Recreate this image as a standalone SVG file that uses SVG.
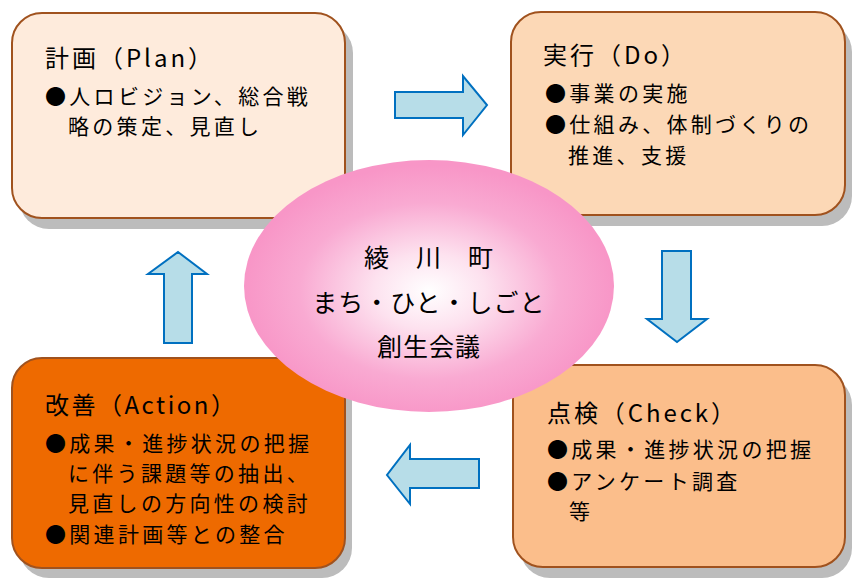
<svg xmlns="http://www.w3.org/2000/svg" width="853" height="580" viewBox="0 0 853 580">
<style>
.shadow{fill:#bcbcbc}
.box{stroke:#a0521e;stroke-width:2}
.t{font-family:"Noto Sans CJK JP","Noto Sans",sans-serif;fill:#000}
.title{font-size:24px}
.body{font-size:21px;letter-spacing:3.3px}
.ctr{font-size:25px;letter-spacing:1px;text-anchor:middle}
.arrow{fill:#b7dde8;stroke:#0070c0;stroke-width:2;stroke-linejoin:miter}
</style>
<defs>
<radialGradient id="pink" cx="0.5" cy="0.52" r="0.5">
<stop offset="0" stop-color="#ffffff"/>
<stop offset="0.3" stop-color="#fde2ef"/>
<stop offset="0.7" stop-color="#f9aad2"/>
<stop offset="1" stop-color="#f896c7"/>
</radialGradient>
</defs>
<rect width="853" height="580" fill="#ffffff"/>
<g id="plan">
<rect class="shadow" x="19" y="23" width="334" height="206" rx="30"/>
<rect class="box" x="12" y="13" width="333" height="205" rx="30" fill="#feebdc"/>
<text class="t title" x="45" y="67" textLength="167" lengthAdjust="spacing">計画（Plan）</text>
<text class="t body" x="45" y="104">●人ロビジョン、総合戦</text>
<text class="t body" x="68" y="134">略の策定、見直し</text>
</g>
<g id="do">
<rect class="shadow" x="518" y="22" width="334" height="204" rx="30"/>
<rect class="box" x="511" y="12" width="334" height="203" rx="30" fill="#fcd8b6"/>
<text class="t title" x="543" y="64" textLength="142" lengthAdjust="spacing">実行（Do）</text>
<text class="t body" x="545" y="101">●事業の実施</text>
<text class="t body" x="545" y="132">●仕組み、体制づくりの</text>
<text class="t body" x="568" y="163">推進、支援</text>
</g>
<g id="action">
<rect class="shadow" x="19" y="368" width="333" height="210" rx="30"/>
<rect class="box" x="12" y="358" width="333" height="210" rx="30" fill="#ee6a00"/>
<text class="t title" x="45" y="414" textLength="190" lengthAdjust="spacing">改善（Action）</text>
<text class="t body" x="45" y="451">●成果・進捗状況の把握</text>
<text class="t body" x="68" y="481">に伴う課題等の抽出、</text>
<text class="t body" x="68" y="511">見直しの方向性の検討</text>
<text class="t body" x="45" y="542">●関連計画等との整合</text>
</g>
<g id="check">
<rect class="shadow" x="520" y="375" width="332" height="203" rx="30"/>
<rect class="box" x="513" y="365" width="332" height="202" rx="30" fill="#fbbe8b"/>
<text class="t title" x="547" y="422" textLength="188" lengthAdjust="spacing">点検（Check）</text>
<text class="t body" x="547" y="457">●成果・進捗状況の把握</text>
<text class="t body" x="547" y="489">●アンケート調査</text>
<text class="t body" x="569" y="519">等</text>
</g>
<g id="center">
<ellipse cx="429" cy="286" rx="185" ry="126" fill="url(#pink)"/>
<text class="t ctr" x="429" y="267">綾　川　町</text>
<text class="t ctr" x="429" y="312">まち・ひと・しごと</text>
<text class="t ctr" x="429" y="356">創生会議</text>
</g>
<g id="connectors">
<path class="arrow" d="M395,92 L463,92 L463,76 L487,105 L463,135 L463,118 L395,118 Z"/>
<path class="arrow" d="M662,251 L691,251 L691,319 L707,319 L677,342 L647,319 L662,319 Z"/>
<path class="arrow" d="M479,459 L410,459 L410,445 L387,475 L410,504 L410,488 L479,488 Z"/>
<path class="arrow" d="M164,343 L164,274 L148,274 L178,252 L207,274 L192,274 L192,343 Z"/>
</g>
</svg>
